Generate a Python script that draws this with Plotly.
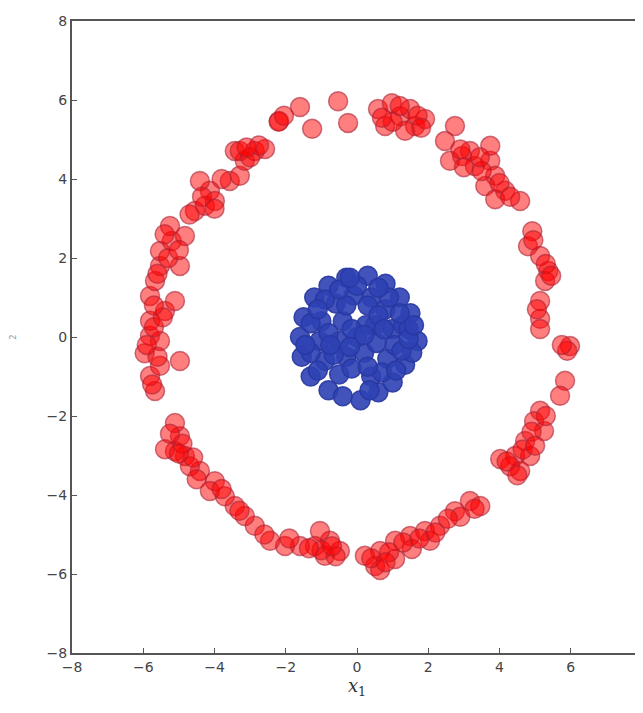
import plotly.graph_objects as go

# Outer ring class (red)
red_x = [-1.6, -1.26, -2.19, -0.53, -0.25, 0.59, 0.98, 1.21, 1.49, 1.63, 1.91, 1.35, 0.79,
         2.75, 2.47, 2.95, 3.31, 3.74, 3.88, 3.6, 4.16, 4.58, 3.88, 3.17, 2.61, 3.74,
         4.92, 4.8, 5.14, 5.37, 5.28, 5.14, 5.14, 5.98, 5.14,
         5.84, 5.7, 5.14, 4.97, 5.25, 4.72, 4.44, 4.86, 4.02, 4.58, 4.3,
         3.17, 3.46, 2.75, 2.33, 1.91, 1.49, 1.07, 0.65, 0.22, 0.51, 0.65, 1.07, 1.54, 2.05,
         -0.48, -0.76, -1.04, -1.18, -0.9, -1.6, -2.02, -2.44, -2.87, -3.15, -3.43, -3.71, -3.99, -4.13,
         -4.83, -5.11, -4.97, -5.11, -5.39, -4.41, -4.69,
         -5.67, -5.81, -5.53, -4.97, -5.96, -5.81, -5.53, -5.81, -5.39, -5.11, -5.81, -5.67, -5.53,
         -4.97, -5.53, -5.2, -5.25, -4.83,
         -4.55, -4.27, -4.13, -4.41, -3.99, -3.57, -3.29, -3.43, -3.15, -2.87, -2.58, -3.29,
         1.0, 1.7, 1.2, 0.7, 1.8,
         3.0, 3.5, 4.0, 4.3, 3.45, 2.9,
         4.95, 5.3, 5.45, 5.05, 5.9, 5.75,
         5.3, 4.9, 4.65, 4.2, 4.5, 5.0,
         3.3, 2.9, 2.55, 2.2, 1.3, 0.9, 0.4, 0.8, 1.75,
         -0.6, -1.0, -0.7, -1.35, -1.9, -2.6, -3.3, -3.8,
         -4.6, -4.9, -5.25, -4.5, -5.0,
         -5.75, -5.6, -5.9, -5.7, -5.45, -5.6, -5.3, -5.4, -5.0, -5.7,
         -4.7, -4.35, -4.0, -3.8, -3.0, -2.75, -2.2, -2.05, -3.1]
red_y = [5.82, 5.27, 5.47, 5.97, 5.42, 5.77, 5.92, 5.59, 5.77, 5.34, 5.52, 5.22, 5.34,
         5.34, 4.96, 4.58, 4.33, 4.46, 4.08, 3.82, 3.7, 3.44, 3.49, 4.71, 4.46, 4.84,
         2.68, 2.3, 2.05, 1.67, 1.42, 0.91, 0.46, -0.23, 0.2,
         -1.11, -1.49, -1.87, -2.13, -2.38, -2.63, -3.01, -3.01, -3.09, -3.39, -3.27,
         -4.15, -4.28, -4.41, -4.78, -4.91, -5.04, -5.16, -5.42, -5.54, -5.8, -5.9, -5.62, -5.37, -5.16,
         -5.42, -5.16, -4.91, -5.29, -5.54, -5.29, -5.29, -5.16, -4.78, -4.53, -4.28, -4.03, -3.65, -3.9,
         -3.01, -2.89, -2.51, -2.18, -2.84, -3.39, -3.27,
         -1.37, -0.99, -0.73, -0.61, -0.41, 0.03, -0.1, 0.41, 0.66, 0.91, 1.04, 1.42, 1.8,
         1.8, 2.18, 2.43, 2.81, 2.56,
         3.19, 3.32, 3.7, 3.95, 3.44, 3.95, 4.08, 4.71, 4.46, 4.71, 4.76, 4.71,
         5.45, 5.6, 5.85, 5.55, 5.3,
         4.3, 4.2, 3.9, 3.55, 4.55, 4.75,
         2.45, 1.85, 1.55, 0.7, -0.35, -0.2,
         -2.0, -2.4, -2.85, -3.15, -3.5, -2.75,
         -4.35, -4.55, -4.6, -4.95, -5.2, -5.45, -5.6, -5.7, -5.1,
         -5.55, -5.4, -5.3, -5.35, -5.1, -5.0, -4.4, -3.85,
         -3.05, -2.7, -2.45, -3.6, -2.95,
         -1.2, -0.5, -0.2, 0.25, 0.5, 1.6, 2.0, 2.6, 2.2, 0.8,
         3.1, 3.55, 3.25, 4.0, 4.55, 4.85, 5.45, 5.6, 4.8]

# Inner cluster class (blue)
blue_x = [1.7, 1.5, 1.2, 0.8, 0.3, -0.3, -0.8, -1.2, -1.5, -1.6, -1.55, -1.3, -0.8, -0.4, 0.1, 0.6, 1.0, 1.35, 1.55,
          1.0, 0.8, 0.4, -0.1, -0.6, -1.0, -1.05, -0.9, -0.5, 0.4, 0.85, 1.05,
          0.5, 0.25, -0.4, -0.5, -0.3, 0.2, 0.55, 0.0, 0.3, -0.3, -0.8, 0.7, -0.65, 1.3, 1.25, -1.3, -1.3, 0.0, 0.9, -0.9,
          1.45, 1.45, 0.6, -0.5, -1.1, -1.45, -1.1, -0.15, 0.35, 1.1, 1.2, 0.6, -0.15, 0.2, -0.2, 0.75, -0.75, -0.2, 0.3, 1.6]
blue_y = [-0.1, 0.6, 1.0, 1.35, 1.55, 1.5, 1.3, 1.0, 0.5, 0.0, -0.5, -1.0, -1.35, -1.5, -1.6, -1.4, -1.15, -0.7, -0.4,
          0.2, 0.7, 1.0, 1.05, 0.85, 0.4, -0.1, -0.6, -0.95, -1.0, -0.55, -0.2,
          0.3, 0.3, 0.4, -0.1, -0.5, -0.4, -0.15, 0.0, 0.8, 0.8, 0.1, -0.9, -0.45, 0.3, -0.35, -0.4, 0.35, 1.3, 1.0, 0.95,
          0.2, -0.05, 1.25, 1.2, 0.7, -0.2, -0.85, -0.8, -1.35, -0.85, 0.6, 0.55, 0.2, 0.05, -0.25, 0.2, -0.2, 1.5, -0.75, 0.3]

ticks = [-8, -6, -4, -2, 0, 2, 4, 6, 8]

fig = go.Figure()
fig.add_trace(go.Scatter(
    x=red_x, y=red_y, mode="markers",
    marker=dict(size=19, color="rgba(255,0,0,0.5)",
                line=dict(color="rgba(170,35,55,0.6)", width=1.5)),
    showlegend=False))
fig.add_trace(go.Scatter(
    x=blue_x, y=blue_y, mode="markers",
    marker=dict(size=19, color="rgba(45,65,180,0.9)",
                line=dict(color="rgba(40,55,160,0.9)", width=1.5)),
    showlegend=False))

axis_common = dict(
    range=[-8, 8], tickvals=ticks, ticktext=[("\u2212" + str(-t)) if t < 0 else str(t) for t in ticks],
    showgrid=False, zeroline=False, showline=True, linecolor="#555555", linewidth=2,
    ticks="inside", ticklen=5, tickcolor="#555555",
    tickfont=dict(family="DejaVu Sans", size=14, color="#444444"),
)

fig.update_layout(
    width=635, height=705,
    margin=dict(l=64, r=1, t=13, b=60),
    paper_bgcolor="white", plot_bgcolor="white",
    xaxis=dict(**axis_common, mirror=True,
               title=dict(text="<i>x</i><sub>1</sub>", font=dict(family="DejaVu Serif", size=18, color="#333333"),
                          standoff=4)),
    yaxis=dict(**axis_common,
               title=dict(text="<sub>2</sub>", font=dict(family="DejaVu Sans", size=12, color="#999999"),
                          standoff=30)),
)

fig.write_html("out.html")
